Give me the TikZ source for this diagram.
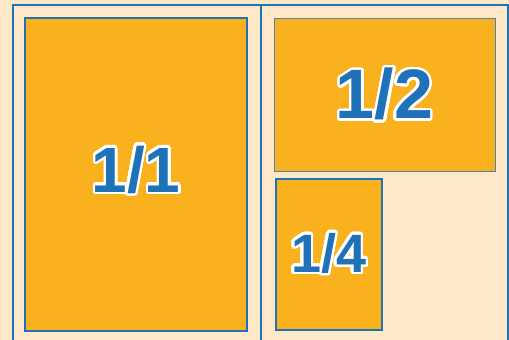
\documentclass[tikz,border=0pt]{standalone}
\usepackage{fontspec}
\setmainfont{Liberation Sans}
\usepackage[copies]{contour}
\contournumber{32}
\contourlength{2.5pt}
\definecolor{peach}{HTML}{FDE8C8}
\definecolor{gold}{HTML}{F9B21E}
\definecolor{fblue}{HTML}{1F72B8}
\definecolor{gblue}{HTML}{4F84AC}
\begin{document}
\begin{tikzpicture}[x=1pt,y=1pt,
  panel/.style={fill=gold,draw=fblue,line width=2pt},
  lbl/.style={text=fblue,font=\bfseries}]
\fill[peach] (0,0) rectangle (509,340);
\useasboundingbox (0,0) rectangle (509,340);
\draw[fblue,line width=2pt] (12.5,-5) -- (12.5,334.5) -- (507.5,334.5) -- (507.5,-5);
\draw[fblue,line width=2pt] (260.5,-5) -- (260.5,334.5);
\node[panel,minimum width=222pt,minimum height=312.5pt,inner sep=0pt] (full) at (136,165.25) {};
\node[panel,draw=gblue,line width=1pt,minimum width=221pt,minimum height=153pt,inner sep=0pt] (half) at (384.5,244.5) {};
\node[panel,minimum width=106.5pt,minimum height=151pt,inner sep=0pt] (quarter) at (328.75,85.5) {};
\node[lbl,font=\bfseries\fontsize{64}{64}\selectfont] (t1) at (full.center) [yshift=4pt] {\contour{white}{1/1}};
\node[lbl,font=\bfseries\fontsize{70}{70}\selectfont] (t2) at (half.center) {\contour{white}{1/2}};
\node[lbl,font=\bfseries\fontsize{54}{54}\selectfont] (t4) at (quarter.center) {\contour{white}{1/4}};
\end{tikzpicture}
\end{document}
